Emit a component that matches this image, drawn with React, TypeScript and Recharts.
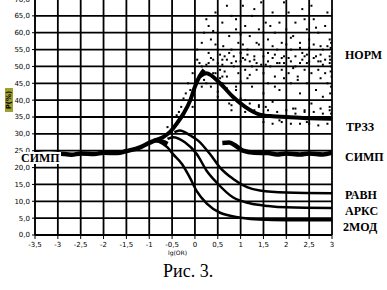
import React from "react";
import { ComposedChart, Line, Scatter, XAxis, YAxis, CartesianGrid } from "recharts";

// tick labels
const xTicks = [-3.5, -3, -2.5, -2, -1.5, -1, -0.5, 0, 0.5, 1, 1.5, 2, 2.5, 3];
const yTicks = [0, 5, 10, 15, 20, 25, 30, 35, 40, 45, 50, 55, 60, 65, 70];

// curves: [lg(OR), P%]
const simp = [
  [-3.5, 24.3], [-3.2, 23.9], [-3, 24.2], [-2.7, 23.8], [-2.5, 24.2], [-2.2, 24.0], [-2, 24.4],
  [-1.7, 24.3], [-1.5, 24.9], [-1.2, 26], [-1.0, 27.3], [-0.85, 28], [-0.7, 27.6], [-0.6, 27],
  [0, null], [0.6, 27.3], [0.75, 27.4], [0.9, 26.4], [1.05, 25], [1.3, 24.4], [1.6, 24.3],
  [1.8, 23.9], [2, 24.2], [2.3, 23.9], [2.5, 24.2], [2.8, 23.9], [3, 24.4],
];
const rise = [
  [-0.9, 28], [-0.7, 29], [-0.55, 30.5], [-0.4, 33], [-0.25, 36], [-0.1, 40], [0, 44], [0.1, 47], [0.2, 49],
];
const mod2 = [
  [-0.8, 27.8], [-0.6, 26], [-0.48, 24], [-0.28, 21], [-0.11, 17], [0.04, 13], [0.26, 9.3],
  [0.55, 6.6], [0.77, 5.7], [1.4, 4.6], [2, 4.4], [3, 4.4],
];
const arks = [
  [-0.6, 28.5], [-0.48, 29], [-0.22, 27.5], [0.04, 24], [0.26, 19], [0.48, 15.5], [0.83, 11.2],
  [1.2, 9.4], [1.6, 8.6], [2, 8.2], [3, 8],
];
const ravn = [
  [-0.45, 30.5], [-0.33, 31], [-0.1, 29.5], [0.07, 28], [0.33, 24], [0.55, 20], [0.83, 16.7],
  [1.14, 14.2], [1.42, 13.2], [2, 12.6], [3, 12.4],
];
const trzz = [
  [0.1, 47], [0.25, 48], [0.55, 45], [0.83, 41], [1.1, 38], [1.4, 35.8], [1.7, 35.2], [2, 35],
  [2.5, 34.6], [3, 34.5],
];

// scattered points
const normDots = [
  [0.05, 55], [0.15, 57], [0.3, 62], [0.35, 58], [0.45, 66], [0.5, 60], [0.6, 63], [0.62, 56], [0.75, 59],
  [0.8, 65], [0.9, 61], [0.95, 57], [1.05, 68], [1.1, 62], [1.2, 59], [1.25, 65], [1.35, 57], [1.4, 61],
  [1.45, 69], [1.55, 63], [1.6, 58], [1.7, 66], [1.75, 60], [1.85, 63], [1.9, 57], [2.0, 61], [2.05, 66],
  [2.15, 59], [2.2, 63], [2.3, 57], [2.35, 67], [2.45, 61], [2.5, 58], [2.6, 64], [2.7, 60], [2.75, 56],
  [2.85, 62], [2.9, 66], [2.95, 58], [0.25, 64], [0.7, 68], [1.3, 67], [1.95, 69], [2.55, 68], [0.4, 60.5],
  [1.0, 59.5], [1.5, 60], [2.1, 58.5], [2.65, 61.5], [0.2, 60], [0.9, 64], [1.65, 62], [2.4, 64],
  [0.3, 54], [0.4, 48], [0.5, 55], [0.55, 49], [0.65, 53], [0.7, 47], [0.8, 55], [0.85, 50], [0.95, 48],
  [1.0, 54], [1.1, 49], [1.15, 55], [1.2, 47.5], [1.3, 53], [1.35, 49], [1.45, 55], [1.5, 48], [1.6, 54],
  [1.65, 50], [1.75, 47], [1.8, 55], [1.9, 49], [1.95, 53], [2.05, 48], [2.1, 55], [2.2, 50], [2.25, 47],
  [2.35, 54], [2.4, 49], [2.5, 55.5], [2.55, 48], [2.65, 53], [2.7, 49], [2.8, 55], [2.85, 48], [2.95, 53],
  [0.45, 56.5], [0.6, 50.5], [0.75, 54], [0.9, 51.5], [1.05, 56.5], [1.25, 50], [1.4, 56.5], [1.55, 50.5],
  [1.7, 56], [1.85, 51], [2.0, 56.5], [2.15, 49.5], [2.3, 55.5], [2.45, 51], [2.6, 56.5], [2.75, 51.5],
  [2.9, 56], [0.35, 52.5], [0.65, 48.5], [1.1, 52], [1.45, 50.5], [1.9, 52.5], [2.35, 52], [2.8, 50.5],
  [0.25, 50.5], [0.4, 52], [0.5, 51], [0.55, 53.5], [0.7, 52], [0.8, 51], [0.85, 53], [1.0, 51.5],
  [1.05, 52.5], [1.2, 51.5], [1.3, 52], [1.35, 51], [1.5, 53], [1.6, 51.5], [1.7, 52.5], [1.8, 51],
  [1.95, 51], [2.05, 52.5], [2.1, 51.5], [2.2, 53], [2.3, 51], [2.4, 53], [2.5, 51.5], [2.6, 52.5],
  [2.7, 51.5], [2.75, 53.5], [2.85, 52], [2.95, 51], [0.6, 52], [1.15, 53.5], [1.75, 53.5], [2.45, 53.5],
  [0.35, 44], [0.5, 41], [0.6, 45], [0.75, 39], [0.9, 43], [1.0, 45.5], [1.1, 40], [1.25, 44], [1.4, 38],
  [1.5, 42], [1.6, 45], [1.7, 39.5], [1.85, 43], [2.0, 40], [2.1, 45], [2.2, 37.5], [2.3, 42], [2.45, 45],
  [2.55, 39], [2.65, 43], [2.8, 41], [2.9, 45], [2.95, 38], [1.3, 36.5], [2.4, 36.5], [0.8, 37],
  [0.55, 46.5], [1.15, 46.5], [1.75, 44], [2.25, 46], [2.75, 46.5], [1.95, 46.5],
  [2.98, 36], [2.99, 40], [2.98, 44], [2.99, 47], [2.98, 50], [2.99, 54], [2.98, 57], [2.99, 60],
  [2.96, 42], [2.97, 48.5], [2.96, 52], [2.97, 55.5],
];
const trzzDots = [
  [0.3, 51], [0.45, 48], [0.6, 47], [0.7, 43.5], [0.9, 44], [1.0, 40.5], [1.1, 36.5], [1.2, 39], [1.3, 37],
  [1.4, 38.5], [1.5, 33.5], [1.6, 37], [1.7, 33], [1.8, 36.5], [1.9, 33.5], [2.0, 37], [2.1, 33], [2.2, 36],
  [2.3, 33], [2.4, 37], [2.5, 33], [2.6, 36.5], [2.7, 32.5], [2.8, 36], [2.9, 33], [2.95, 37],
  [0.5, 42.5], [0.8, 38.5], [1.25, 35], [1.55, 38], [1.85, 34], [2.15, 37.5], [2.45, 33.5], [2.75, 37.5],
  [-0.15, 45], [-0.05, 48], [0.0, 50], [0.05, 46], [0.1, 51], [0.15, 44], [-0.2, 42], [0.2, 46],
  [-0.3, 38], [-0.45, 35], [-0.6, 32], [-0.1, 43], [0.05, 52], [0.15, 50], [-0.25, 40.5], [-0.35, 36.5],
  [0.25, 45], [-0.05, 38], [-0.5, 31.5], [-0.4, 35.5],
];

const pts = (a: (number | null)[][]) => a.map(([x, y]) => ({ x, y }));

const fmtX = (v: number) => String(v).replace(".", ",");
const fmtY = (v: number) => v.toFixed(1).replace(".", ",");

const Dot = (props: any) => <rect x={props.cx - 1} y={props.cy - 1} width={2} height={2} fill="#000" />;

const tickStyle = { fontSize: 7, fill: "#000", fontFamily: "DejaVu Sans" };
const lab: React.CSSProperties = {
  position: "absolute", fontFamily: "Liberation Serif", fontWeight: "bold", fontSize: 12,
  lineHeight: "12px", color: "#000",
};

export default function App() {
  const line = (data: any[], w: number, key: string) => (
    <Line key={key} data={pts(data)} dataKey="y" type="monotone" stroke="#000" strokeWidth={w}
      dot={false} isAnimationActive={false} connectNulls={false} />
  );
  return (
    <div style={{ position: "absolute", left: 0, top: 0, width: 387, height: 290, background: "#fff", overflow: "hidden" }}>
      <div style={{ position: "absolute", left: 0, top: -1 }}>
        <ComposedChart width={387} height={262} margin={{ top: 0, right: 55, left: 0, bottom: 0 }}>
          <CartesianGrid stroke="#000" strokeWidth={1.8} />
          <XAxis type="number" dataKey="x" domain={[-3.5, 3]} ticks={xTicks} interval={0} height={26}
            tickFormatter={fmtX} tick={tickStyle} tickSize={4} tickMargin={3} stroke="#000" allowDataOverflow />
          <YAxis type="number" dataKey="y" domain={[0, 70]} ticks={yTicks} interval={0} width={35}
            tickFormatter={fmtY} tick={tickStyle} tickSize={3} stroke="#000" allowDataOverflow />
          {line(simp, 4.5, "simp")}
          {line(rise, 4, "rise")}
          {line(mod2, 2.5, "mod2")}
          {line(arks, 2.5, "arks")}
          {line(ravn, 2.5, "ravn")}
          {line(trzz, 4, "trzz")}
          <Scatter data={pts(normDots)} dataKey="y" shape={Dot} isAnimationActive={false} />
          <Scatter data={pts(trzzDots)} dataKey="y" shape={Dot} isAnimationActive={false} />
        </ComposedChart>
      </div>
      <div style={{ position: "absolute", left: 5, top: 88, width: 8, height: 24, background: "#a0a030" }}>
        <div style={{ position: "absolute", left: -8, top: 8, width: 24, fontSize: 7, fontWeight: "bold", fontFamily: "DejaVu Sans", transform: "rotate(-90deg)", textAlign: "center", lineHeight: "8px" }}>P(%)</div>
      </div>
      <div style={{ position: "absolute", left: 168, top: 249, fontSize: 6, fontFamily: "DejaVu Sans" }}>lg(OR)</div>
      <div style={{ ...lab, left: 20, top: 152, background: "#fff", padding: "0 1px" }}>СИМП</div>
      <div style={{ ...lab, left: 345, top: 49 }}>НОРМ</div>
      <div style={{ ...lab, left: 346, top: 121 }}>ТРЗЗ</div>
      <div style={{ ...lab, left: 345, top: 151 }}>СИМП</div>
      <div style={{ ...lab, left: 345, top: 189 }}>РАВН</div>
      <div style={{ ...lab, left: 345, top: 205 }}>АРКС</div>
      <div style={{ ...lab, left: 343, top: 221 }}>2МОД</div>
      <div style={{ position: "absolute", left: 163, top: 261, fontFamily: "Liberation Serif", fontSize: 18 }}>Рис. 3.</div>
    </div>
  );
}
